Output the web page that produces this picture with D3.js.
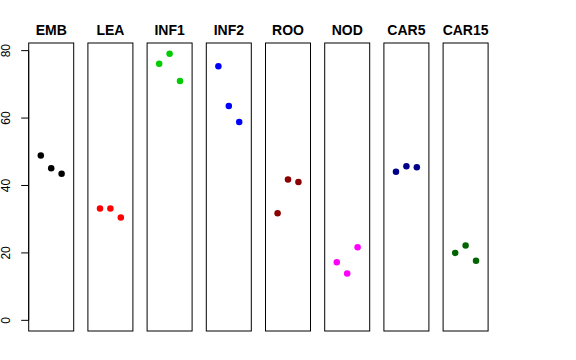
<!DOCTYPE html>
<html>
<head>
<meta charset="utf-8">
<script src="https://cdn.jsdelivr.net/npm/d3@7"></script>
<style>
  html, body { margin: 0; padding: 0; background: #fff; }
  svg { display: block; font-family: "Liberation Sans", Arial, Helvetica, sans-serif; }
</style>
</head>
<body>
<svg id="chart" width="576" height="360"></svg>
<script>
// ---- data ----
const categories = ["EMB", "LEA", "INF1", "INF2", "ROO", "NOD", "CAR5", "CAR15"];
const colors = ["#000000", "#FF0000", "#00CD00", "#0000FF", "#8B0000", "#FF00FF", "#00008B", "#006400"];
const replicate1 = [48.9, 33.2, 76.1, 75.4, 31.8, 17.2, 44.1, 20.0];
const replicate2 = [45.1, 33.2, 79.1, 63.6, 41.8, 13.9, 45.7, 22.2];
const replicate3 = [43.5, 30.5, 71.0, 58.8, 41.0, 21.7, 45.4, 17.7];
const yTicks = [0, 20, 40, 60, 80];

// ---- layout ----
const svg = d3.select("#chart");
const panelLeft0 = 28.7, panelStep = 59.2, panelW = 45;
const plotTop = 43, plotBottom = 331;

const panelX = d3.scaleLinear().domain([0, 1]).range([panelLeft0, panelLeft0 + panelStep]);
const x = d3.scaleLinear().domain([-0.16, 4.16]).range([0, panelW]);
const y = d3.scaleLinear().domain([-3.164, 82.264]).range([plotBottom, plotTop]);

categories.forEach((cat, i) => {
  const g = svg.append("g").attr("transform", `translate(${panelX(i)},0)`);
  const pts = [replicate1[i], replicate2[i], replicate3[i]].map((v, j) => ({ x: j + 1, v }));

  g.selectAll("circle").data(pts).join("circle")
    .attr("cx", d => x(d.x))
    .attr("cy", d => y(d.v))
    .attr("r", 3.25)
    .attr("fill", colors[i]);

  g.append("rect")
    .attr("x", 0).attr("y", plotTop)
    .attr("width", panelW).attr("height", plotBottom - plotTop)
    .attr("fill", "none").attr("stroke", "#000").attr("stroke-width", 1);

  g.append("text")
    .attr("x", panelW / 2).attr("y", 35)
    .attr("text-anchor", "middle")
    .attr("font-weight", "bold")
    .attr("font-size", 14)
    .text(cat);
});

// y axis on first panel
const ax = svg.append("g").attr("transform", `translate(${panelLeft0},0)`);
ax.append("line")
  .attr("x1", 0).attr("x2", 0)
  .attr("y1", y(yTicks[0])).attr("y2", y(yTicks[yTicks.length - 1]))
  .attr("stroke", "#000");
ax.selectAll("line.tick").data(yTicks).join("line")
  .attr("class", "tick")
  .attr("x1", 0).attr("x2", -7.5)
  .attr("y1", d => y(d)).attr("y2", d => y(d))
  .attr("stroke", "#000");
ax.selectAll("text").data(yTicks).join("text")
  .attr("transform", d => `translate(${-18.8},${y(d)}) rotate(-90)`)
  .attr("text-anchor", "middle")
  .attr("font-size", 12)
  .text(d => d);
</script>
</body>
</html>
